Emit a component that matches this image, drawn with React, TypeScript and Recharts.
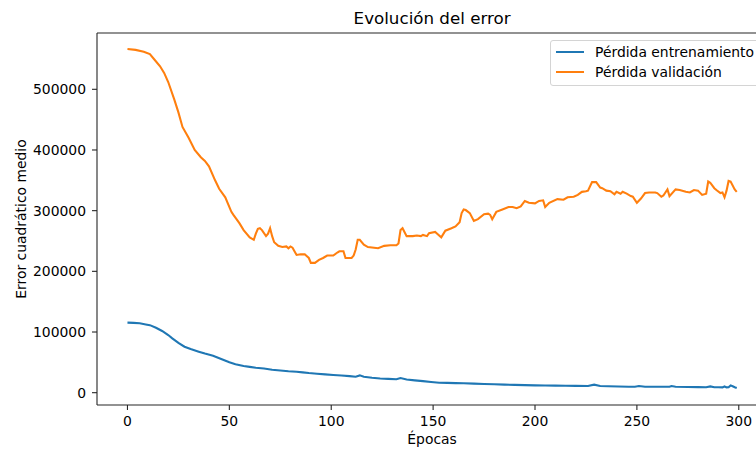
import React from 'react';
import { LineChart, Line, XAxis, YAxis, ReferenceLine } from 'recharts';

const TITLE = 'Evolución del error';
const X_LABEL = 'Épocas';
const Y_LABEL = 'Error cuadrático medio';
const TRAIN_NAME = 'Pérdida entrenamiento';
const VAL_NAME = 'Pérdida validación';
const TRAIN_COLOR = '#1f77b4';
const VAL_COLOR = '#ff7f0e';

const xTicks = [0, 50, 100, 150, 200, 250, 300];
const yTicks = [0, 100000, 200000, 300000, 400000, 500000];
const X_DOMAIN = [-14.95, 313.95];
const Y_DOMAIN = [-20300, 592800];

const trainEpochs = [0, 3, 6, 9, 11, 14, 17, 20, 22, 25, 28, 31, 35, 38, 42, 46, 50, 53, 57, 60, 63, 67, 71, 75, 79, 83, 86, 89, 93, 97, 101, 105, 109, 112, 114, 116, 120, 124, 128, 132, 134, 137, 141, 145, 149, 153, 157, 161, 165, 170, 175, 180, 185, 190, 195, 200, 205, 210, 215, 220, 226, 229, 232, 236, 241, 246, 249, 251, 254, 260, 266, 267, 269, 275, 280, 284, 286, 288, 290, 292, 293, 294, 295, 296, 297, 298, 299];
const trainLoss = [115400, 115000, 114400, 112500, 111300, 107000, 101700, 95000, 89600, 82000, 75800, 72000, 67600, 64500, 61000, 55500, 50100, 47000, 44000, 42500, 41200, 39800, 37900, 36500, 35400, 34600, 33500, 32300, 31300, 30200, 29200, 28300, 27300, 26400, 28500, 26200, 24500, 23300, 22700, 22100, 24200, 21700, 20300, 19000, 17700, 16500, 16200, 15800, 15500, 14900, 14300, 13800, 13300, 12900, 12500, 12100, 11900, 11600, 11400, 11200, 11000, 13200, 11000, 10600, 10300, 9900, 9900, 10900, 9900, 9900, 9900, 10900, 9800, 9500, 9200, 8900, 10400, 8900, 8900, 8800, 10200, 8800, 9000, 12000, 10500, 8900, 7700];

const valEpochs = [0, 4, 8, 11, 13, 16, 18, 20, 23, 25, 27, 30, 33, 36, 38, 40, 43, 45, 48, 51, 52, 55, 57, 60, 62, 63, 64, 65, 66, 68, 69, 70, 71, 72, 74, 76, 78, 79, 80, 81, 83, 85, 87, 89, 90, 92, 94, 96, 98, 101, 103, 104, 106, 107, 110, 111, 112, 113, 114, 116, 118, 121, 123, 126, 129, 132, 133, 134, 135, 137, 140, 142, 144, 145, 147, 148, 151, 152, 154, 156, 159, 161, 163, 164, 165, 166, 168, 170, 172, 175, 177, 178, 179, 181, 184, 187, 189, 191, 193, 195, 197, 200, 202, 204, 205, 207, 211, 214, 216, 219, 221, 223, 225, 226, 228, 230, 232, 233, 235, 237, 239, 240, 242, 243, 245, 247, 248, 250, 252, 254, 256, 259, 260, 262, 263, 265, 266, 269, 271, 274, 276, 278, 280, 282, 284, 285, 286, 288, 289, 291, 292, 293, 294, 295, 296, 298, 299];
const valLoss = [566400, 565000, 562000, 558000, 550000, 538000, 527000, 512000, 483000, 462000, 438000, 420000, 400000, 388000, 382000, 373000, 350000, 336000, 322000, 298000, 293000, 279000, 268000, 256000, 252000, 262000, 270000, 271000, 268000, 258000, 262000, 271000, 258000, 248000, 242000, 240000, 241000, 238000, 241000, 239000, 227000, 228000, 228000, 222000, 214000, 214000, 219000, 222000, 226000, 226000, 231000, 233000, 233000, 222000, 222000, 226000, 236000, 252000, 252000, 244000, 240000, 239000, 238000, 242000, 243000, 243000, 246000, 268000, 271000, 258000, 258000, 259000, 258000, 260000, 258000, 263000, 265000, 262000, 256000, 267000, 271000, 274000, 281000, 296000, 302000, 301000, 296000, 283000, 286000, 294000, 295000, 293000, 286000, 298000, 302000, 306000, 306000, 304000, 307000, 316000, 313000, 312000, 316000, 317000, 306000, 313000, 319000, 318000, 322000, 323000, 326000, 331000, 332000, 333000, 347000, 347000, 338000, 337000, 333000, 332000, 327000, 331000, 328000, 331000, 328000, 324000, 323000, 313000, 320000, 329000, 330000, 330000, 329000, 323000, 325000, 335000, 324000, 335000, 334000, 331000, 330000, 334000, 333000, 326000, 328000, 348000, 346000, 337000, 334000, 329000, 330000, 322000, 333000, 349000, 348000, 335000, 331000];

const trainData = trainEpochs.map((e, i) => ({ epoch: e, loss: trainLoss[i] }));
const valData = valEpochs.map((e, i) => ({ epoch: e, loss: valLoss[i] }));

const FONT = "'DejaVu Sans', sans-serif";
const INK = '#000';
const SPINE = '#262626';

export default function App() {
  return (
    <div
      style={{
        position: 'fixed',
        left: 0,
        top: 0,
        width: 756,
        height: 450,
        overflow: 'hidden',
        background: '#fff',
        fontFamily: FONT,
      }}
    >
      <LineChart width={790} height={450} margin={{ top: 33, right: 22.8, bottom: 0, left: 0 }}>
        <XAxis
          xAxisId="b"
          type="number"
          dataKey="epoch"
          domain={X_DOMAIN}
          allowDataOverflow
          ticks={xTicks}
          height={45}
          tickSize={5}
          tickMargin={6}
          axisLine={{ stroke: SPINE, strokeWidth: 1.1 }}
          tickLine={{ stroke: SPINE, strokeWidth: 1.1 }}
          tick={{ fill: INK, fontSize: 13.9, fontFamily: FONT }}
          label={{ value: X_LABEL, position: 'insideBottom', offset: 6, fill: INK, fontSize: 13.9, fontFamily: FONT }}
        />
        <YAxis
          type="number"
          domain={Y_DOMAIN}
          allowDataOverflow
          ticks={yTicks}
          width={97}
          tickSize={5}
          tickMargin={6}
          axisLine={{ stroke: SPINE, strokeWidth: 1.1 }}
          tickLine={{ stroke: SPINE, strokeWidth: 1.1 }}
          tick={{ fill: INK, fontSize: 13.9, fontFamily: FONT }}
          label={{
            value: Y_LABEL,
            angle: -90,
            position: 'insideLeft',
            offset: 21,
            fill: INK,
            fontSize: 13.9,
            fontFamily: FONT,
            style: { textAnchor: 'middle' },
          }}
        />
        <ReferenceLine
          xAxisId="b"
          y={Y_DOMAIN[1]}
          stroke={SPINE}
          strokeWidth={1.1}
          ifOverflow="visible"
          label={{ value: TITLE, position: 'top', offset: 9, fill: INK, fontSize: 16.7, fontFamily: FONT }}
        />
        <Line
          xAxisId="b"
          data={trainData}
          dataKey="loss"
          name={TRAIN_NAME}
          type="linear"
          stroke={TRAIN_COLOR}
          strokeWidth={2.08}
          dot={false}
          activeDot={false}
          isAnimationActive={false}
        />
        <Line
          xAxisId="b"
          data={valData}
          dataKey="loss"
          name={VAL_NAME}
          type="linear"
          stroke={VAL_COLOR}
          strokeWidth={2.08}
          dot={false}
          activeDot={false}
          isAnimationActive={false}
        />
      </LineChart>
      <div
        style={{
          position: 'absolute',
          left: 550,
          top: 40,
          width: 220,
          height: 44,
          border: '1px solid #d4d4d4',
          borderRadius: 3,
          background: 'rgba(255,255,255,0.8)',
          fontFamily: FONT,
          fontSize: 13.9,
          color: INK,
        }}
      >
        {[
          { name: TRAIN_NAME, color: TRAIN_COLOR, cy: 11.7 },
          { name: VAL_NAME, color: VAL_COLOR, cy: 32.3 },
        ].map((it) => (
          <React.Fragment key={it.name}>
            <div
              style={{
                position: 'absolute',
                left: 5,
                top: it.cy - 1 - 1,
                width: 28,
                height: 2,
                background: it.color,
              }}
            />
            <div
              style={{
                position: 'absolute',
                left: 44,
                top: it.cy - 8 - 1,
                lineHeight: '16px',
                whiteSpace: 'nowrap',
              }}
            >
              {it.name}
            </div>
          </React.Fragment>
        ))}
      </div>
    </div>
  );
}
